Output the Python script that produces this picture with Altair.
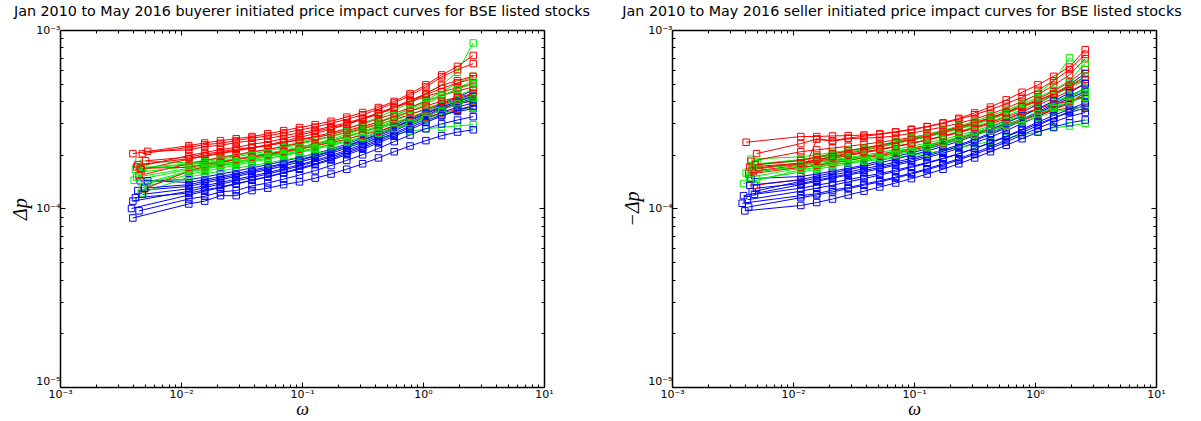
import altair as alt
import pandas as pd

# Impact values below are given in units of 1e-5.
SCALE = 1e-5

# Common order-size bins (omega) shared by the curves after their first point.
omega_grid = [0.0116, 0.0157, 0.0212, 0.0286, 0.0386, 0.0521, 0.0705, 0.0953, 0.1285,
              0.1738, 0.2344, 0.3170, 0.4285, 0.5781, 0.7816, 1.057, 1.426, 1.928, 2.600]

# ---- buyer initiated ----
buy_red_first_x = [0.0040, 0.0048, 0.0053, 0.0043, 0.0047, 0.0045, 0.0050, 0.0044, 0.0046, 0.0051]
buy_red = [
    [20.3, 22.5, 23.3, 24.0, 24.6, 25.3, 26.2, 27.3, 28.4, 29.5, 30.8, 32.5, 34.5, 36.8, 39.8, 44.0, 49.3, 56.0, 62.5, 72.0],
    [20.3, 22.0, 22.8, 23.2, 24.0, 24.8, 25.5, 26.5, 27.5, 28.6, 30.0, 31.6, 33.5, 36.0, 39.0, 43.0, 48.0, 54.6, 60.0, 64.8],
    [20.9, 21.3, 22.2, 22.6, 23.4, 24.0, 24.7, 25.6, 26.5, 27.5, 28.8, 30.2, 32.0, 34.3, 37.0, 40.3, 44.0, 49.0, 52.0, 55.0],
    [17.1, 19.8, 20.6, 21.4, 22.0, 22.9, 23.6, 24.6, 25.8, 27.0, 28.3, 29.8, 31.8, 34.0, 36.8, 40.0, 43.5, 47.0, 50.5, 53.3],
    [16.5, 18.9, 19.6, 20.3, 21.0, 21.8, 22.5, 23.4, 24.4, 25.3, 26.6, 28.0, 29.8, 31.8, 34.0, 36.8, 40.0, 43.0, 45.5, 48.0],
    [15.3, 17.8, 18.5, 19.4, 20.0, 20.8, 21.4, 22.3, 23.2, 24.2, 25.4, 26.6, 28.0, 29.6, 31.5, 33.6, 36.0, 38.5, 40.8, 43.0],
    [12.9, 16.2, 17.2, 18.0, 18.8, 19.5, 20.2, 21.0, 22.0, 23.0, 24.0, 25.3, 26.8, 28.4, 30.2, 32.2, 34.5, 36.5, 38.5, 40.0],
    [17.6, 19.0, 19.8, 20.5, 21.2, 21.9, 22.7, 23.8, 25.0, 26.3, 27.8, 29.5, 31.6, 33.8, 36.5, 39.5, 42.5, 45.0, 47.5, 50.0],
    [16.8, 17.0, 17.6, 18.2, 18.8, 19.4, 20.0, 20.8, 21.5, 22.4, 23.4, 24.5, 25.8, 27.2, 28.8, 30.6, 32.5, 34.3, 36.0, 37.5],
    [18.5, 19.4, 20.2, 20.8, 21.5, 22.0, 22.6, 23.4, 24.2, 25.0, 26.0, 27.3, 28.8, 30.5, 32.5, 35.0, 37.5, 40.0, 42.0, 44.0],
]
buy_green_first_x = [0.0045, 0.0042, 0.0041, 0.0047, 0.0048, 0.0050, 0.0046, 0.0049, 0.0043, 0.0052]
buy_green = [
    [18.5, 18.0, 18.6, 19.2, 19.8, 20.6, 21.4, 22.4, 23.5, 24.8, 26.2, 28.0, 30.0, 32.5, 35.5, 39.0, 44.0, 49.3, 58.0, 84.6],
    [16.6, 17.6, 18.0, 18.4, 19.0, 19.5, 20.2, 21.0, 22.0, 23.1, 24.4, 26.0, 27.8, 30.0, 33.0, 36.5, 40.5, 45.0, 50.5, 55.0],
    [14.4, 16.5, 17.0, 17.6, 18.3, 19.0, 19.8, 20.6, 21.6, 22.6, 23.8, 25.2, 26.8, 28.7, 31.0, 33.5, 36.2, 39.0, 42.5, 47.0],
    [12.2, 15.0, 15.6, 16.2, 16.8, 17.4, 18.0, 18.7, 19.4, 20.3, 21.2, 22.3, 23.5, 24.8, 26.0, 27.0, 28.0, 28.5, 29.0, 29.5],
    [13.1, 15.5, 16.2, 16.8, 17.5, 18.2, 18.9, 19.8, 20.8, 21.8, 23.0, 24.4, 26.0, 27.8, 29.8, 32.0, 34.5, 37.0, 39.5, 42.0],
    [13.6, 16.0, 16.6, 17.3, 18.0, 18.8, 19.6, 20.5, 21.4, 22.5, 23.7, 25.2, 27.0, 29.2, 31.8, 35.0, 38.5, 42.5, 47.0, 52.0],
    [16.0, 17.2, 17.8, 18.4, 19.0, 19.7, 20.4, 21.2, 22.0, 23.0, 24.0, 25.3, 26.8, 28.4, 30.3, 32.5, 35.0, 37.8, 40.5, 43.0],
    [17.0, 17.8, 18.3, 18.9, 19.5, 20.2, 21.0, 21.9, 22.9, 24.0, 25.3, 26.8, 28.5, 30.6, 33.0, 36.0, 39.5, 43.0, 46.5, 50.0],
    [15.0, 16.8, 17.3, 17.8, 18.3, 18.9, 19.5, 20.2, 21.0, 21.8, 22.8, 23.9, 25.1, 26.5, 28.0, 29.8, 31.8, 33.8, 35.5, 37.0],
    [14.0, 16.2, 16.8, 17.4, 17.9, 18.5, 19.1, 19.8, 20.6, 21.5, 22.5, 23.6, 24.9, 26.4, 28.2, 30.3, 32.8, 35.5, 38.5, 41.0],
]
buy_blue_first_x = [0.0046, 0.0053, 0.0044, 0.0040, 0.0039, 0.0045, 0.0040, 0.0048, 0.0050, 0.0042]
buy_blue = [
    [14.3, 14.5, 15.0, 15.6, 16.2, 16.9, 17.6, 18.4, 19.3, 20.3, 21.5, 23.0, 24.8, 26.8, 29.2, 32.0, 35.0, 38.5, 42.0, 46.0],
    [14.3, 14.0, 14.5, 15.1, 15.7, 16.4, 17.1, 17.9, 18.8, 19.8, 21.0, 22.5, 24.2, 26.2, 28.6, 31.3, 34.3, 37.5, 40.8, 44.0],
    [12.6, 13.3, 13.9, 14.5, 15.1, 15.8, 16.5, 17.3, 18.2, 19.2, 20.4, 21.8, 23.5, 25.5, 27.8, 30.4, 33.3, 36.3, 39.0, 41.2],
    [11.0, 12.5, 13.1, 13.7, 14.3, 14.9, 15.6, 16.4, 17.3, 18.3, 19.4, 20.8, 22.4, 24.3, 26.5, 29.0, 31.8, 34.5, 37.0, 39.0],
    [10.0, 11.9, 12.5, 13.1, 13.7, 14.4, 15.1, 15.9, 16.8, 17.8, 19.0, 20.4, 22.0, 23.8, 26.0, 28.4, 31.0, 33.4, 35.0, 36.2],
    [9.7, 11.3, 11.7, 12.4, 12.6, 13.4, 13.9, 14.6, 15.4, 16.3, 17.4, 18.6, 20.0, 21.7, 23.7, 25.8, 28.0, 29.8, 31.3, 32.7],
    [8.85, 10.6, 11.0, 11.8, 11.8, 12.6, 13.0, 13.6, 14.1, 14.8, 15.6, 16.6, 17.8, 19.2, 20.8, 22.4, 24.0, 25.6, 26.8, 27.6],
    [12.0, 12.9, 13.4, 14.0, 14.6, 15.2, 15.9, 16.7, 17.6, 18.6, 19.8, 21.2, 22.9, 24.9, 27.2, 29.8, 32.7, 35.7, 38.5, 40.5],
    [13.0, 13.6, 14.2, 14.8, 15.4, 16.1, 16.8, 17.7, 18.6, 19.6, 20.8, 22.3, 24.0, 26.0, 28.3, 31.0, 34.0, 37.0, 39.8, 42.5],
    [11.5, 12.2, 12.7, 13.2, 13.8, 14.4, 15.0, 15.8, 16.6, 17.6, 18.7, 20.0, 21.5, 23.3, 25.4, 27.7, 30.3, 33.0, 35.5, 37.5],
]

# ---- seller initiated ----
sell_red_first_x = [0.0041, 0.0050, 0.0048, 0.0045, 0.0044, 0.0047, 0.0046, 0.0043, 0.0049, 0.0052]
sell_red = [
    [23.5, 25.3, 25.3, 25.5, 25.6, 25.8, 26.2, 26.9, 27.8, 28.8, 30.2, 32.0, 34.3, 37.0, 40.6, 44.8, 49.3, 55.0, 62.0, 77.6],
    [20.3, 23.1, 24.5, 24.0, 24.8, 25.4, 26.0, 26.8, 27.6, 28.7, 30.0, 31.6, 33.5, 35.8, 38.6, 42.0, 46.0, 52.0, 60.0, 73.0],
    [13.5, 14.5, 24.5, 23.8, 24.6, 24.8, 25.0, 25.5, 26.4, 27.5, 28.6, 30.0, 31.7, 33.8, 36.5, 39.8, 43.5, 49.0, 56.0, 69.0],
    [18.4, 20.8, 21.3, 21.8, 22.3, 22.9, 23.5, 24.2, 25.0, 26.0, 27.2, 28.6, 30.3, 32.3, 34.7, 37.5, 41.0, 45.5, 51.0, 60.0],
    [17.1, 17.9, 18.7, 19.6, 20.4, 21.2, 22.1, 23.1, 24.2, 25.3, 26.6, 28.0, 29.8, 31.8, 34.2, 37.0, 40.0, 43.5, 48.0, 55.0],
    [16.2, 17.5, 18.4, 19.0, 19.8, 20.5, 21.3, 22.2, 23.1, 24.2, 25.4, 26.8, 28.4, 30.3, 32.5, 35.0, 38.0, 41.5, 45.5, 50.0],
    [16.6, 17.8, 18.2, 18.6, 19.0, 19.6, 20.2, 20.9, 21.7, 22.6, 23.6, 24.8, 26.2, 27.8, 29.6, 31.6, 33.8, 36.0, 38.5, 45.0],
    [15.6, 17.0, 17.5, 18.0, 18.6, 19.2, 19.8, 20.5, 21.3, 22.2, 23.2, 24.4, 25.8, 27.4, 29.2, 31.2, 33.3, 35.5, 36.5, 37.0],
    [17.6, 18.6, 19.4, 20.2, 21.0, 21.8, 22.6, 23.5, 24.5, 25.6, 26.9, 28.4, 30.1, 32.1, 34.5, 37.2, 40.3, 44.0, 48.5, 53.0],
    [16.9, 18.0, 18.8, 19.5, 20.1, 20.8, 21.5, 22.3, 23.2, 24.2, 25.3, 26.6, 28.1, 29.8, 31.8, 34.0, 36.2, 38.4, 40.0, 42.0],
]
sell_green_first_x = [0.0045, 0.0039, 0.0046, 0.0043, 0.0048, 0.0044, 0.0051, 0.0041, 0.0047, 0.0050]
sell_green = [
    [18.9, 19.5, 20.0, 20.6, 21.2, 21.8, 22.5, 23.3, 24.2, 25.2, 26.4, 27.8, 29.5, 31.5, 34.0, 39.0, 44.0, 51.7, 69.8, 57.0],
    [13.8, 16.5, 17.0, 17.6, 18.2, 18.8, 19.5, 20.3, 21.2, 22.2, 23.3, 24.6, 26.0, 27.7, 29.5, 31.6, 34.0, 37.0, 40.5, 44.0],
    [16.5, 18.0, 18.6, 19.2, 19.9, 20.6, 21.4, 22.3, 23.2, 24.3, 25.6, 27.0, 28.7, 30.7, 33.0, 35.8, 39.0, 43.0, 47.5, 52.0],
    [16.1, 17.0, 17.3, 17.6, 18.0, 18.4, 18.8, 19.3, 19.8, 20.4, 21.1, 21.9, 22.8, 23.8, 24.8, 25.8, 26.9, 28.3, 29.0, 30.0],
    [17.5, 18.5, 19.2, 19.9, 20.6, 21.4, 22.2, 23.1, 24.1, 25.2, 26.5, 28.0, 29.7, 31.7, 34.0, 36.8, 40.0, 44.0, 49.0, 55.0],
    [15.0, 16.8, 17.4, 18.0, 18.6, 19.3, 20.0, 20.8, 21.7, 22.7, 23.8, 25.1, 26.6, 28.4, 30.5, 33.0, 36.0, 39.5, 43.0, 47.0],
    [17.8, 18.8, 19.5, 20.2, 21.0, 21.8, 22.7, 23.7, 24.8, 26.0, 27.4, 29.0, 30.8, 33.0, 35.5, 38.4, 41.8, 46.0, 52.0, 65.0],
    [15.8, 17.3, 17.8, 18.3, 18.9, 19.5, 20.1, 20.8, 21.6, 22.5, 23.5, 24.6, 25.9, 27.3, 28.9, 30.6, 32.5, 34.8, 36.0, 37.2],
    [16.8, 17.6, 18.1, 18.7, 19.3, 19.9, 20.6, 21.4, 22.3, 23.3, 24.4, 25.7, 27.2, 29.0, 31.0, 33.4, 36.2, 39.4, 42.5, 45.5],
    [14.6, 16.0, 16.6, 17.2, 17.8, 18.5, 19.2, 20.0, 20.9, 21.9, 23.0, 24.3, 25.8, 27.5, 29.4, 31.6, 34.0, 36.8, 39.5, 42.0],
]
sell_blue_first_x = [0.0045, 0.0046, 0.0039, 0.0038, 0.0040, 0.0048, 0.0050, 0.0042, 0.0044, 0.0043]
sell_blue = [
    [14.7, 15.1, 15.6, 16.2, 16.8, 17.5, 18.5, 19.6, 20.5, 21.6, 22.8, 24.4, 26.3, 28.6, 31.3, 34.6, 38.5, 43.5, 49.5, 57.0],
    [12.4, 14.2, 14.8, 15.4, 16.0, 16.7, 17.4, 18.2, 19.1, 20.1, 21.3, 22.7, 24.4, 26.4, 28.8, 31.6, 34.8, 38.5, 42.5, 47.0],
    [11.8, 13.6, 14.2, 14.8, 15.4, 16.0, 16.7, 17.5, 18.3, 19.3, 20.4, 21.7, 23.3, 25.1, 27.3, 29.9, 32.8, 36.0, 39.5, 43.0],
    [10.7, 11.8, 12.1, 12.7, 13.1, 13.7, 14.3, 15.0, 15.8, 16.7, 17.8, 19.0, 20.5, 22.2, 24.2, 26.6, 29.2, 32.0, 35.0, 38.0],
    [9.7, 10.4, 10.8, 11.3, 11.9, 12.5, 13.2, 13.9, 14.7, 15.6, 16.6, 17.8, 19.2, 20.8, 22.6, 24.6, 26.8, 28.6, 30.2, 31.3],
    [12.0, 13.0, 13.5, 14.0, 14.5, 15.1, 15.7, 16.4, 17.2, 18.1, 19.1, 20.3, 21.7, 23.3, 25.2, 27.4, 29.8, 32.2, 34.5, 36.5],
    [13.0, 13.8, 14.4, 15.0, 15.6, 16.3, 17.0, 17.8, 18.7, 19.7, 20.9, 22.3, 24.0, 26.0, 28.3, 31.0, 34.2, 37.8, 41.5, 45.0],
    [11.2, 12.5, 13.0, 13.5, 14.1, 14.7, 15.4, 16.1, 17.0, 17.9, 19.0, 20.2, 21.7, 23.4, 25.4, 27.8, 30.5, 33.2, 36.0, 39.0],
    [13.5, 14.5, 15.2, 15.8, 16.5, 17.2, 18.0, 18.9, 19.9, 21.0, 22.3, 23.8, 25.6, 27.7, 30.1, 33.0, 36.3, 40.0, 44.5, 50.0],
    [10.2, 11.5, 11.9, 12.4, 12.9, 13.5, 14.1, 14.8, 15.6, 16.5, 17.5, 18.7, 20.1, 21.7, 23.6, 25.8, 28.2, 30.5, 32.8, 34.5],
]

GROUP_COLORS = {"red": "#ff0000", "green": "#00ee00", "blue": "#0000ff"}


def build_frame(groups):
    rows = []
    for i in range(10):
        for name, first_x, curves in groups:
            ys = curves[i]
            xs = [first_x[i]] + omega_grid
            for k, (x, y) in enumerate(zip(xs, ys)):
                rows.append({"omega": x, "dp": y * SCALE, "group": name,
                             "series": f"{name}{i}", "idx": k})
    return pd.DataFrame(rows)


def decade_ticks(lo, hi):
    return [m * 10.0 ** e for e in range(lo, hi) for m in range(1, 10)] + [10.0 ** hi]


EXP = "round(log(datum.value)/LN10)"
IS_DECADE = f"abs(log(datum.value)/LN10 - {EXP}) < 0.001"
LABEL = (f"{IS_DECADE} ? '10' + ({EXP} < 0 ? '\u207b' : '') + "
         f"['\u2070','\u00b9','\u00b2','\u00b3','\u2074','\u2075'][abs({EXP})] : ''")
TICK_SIZE = {"condition": {"test": IS_DECADE, "value": -5}, "value": -3}
# lift the lowest y label a little so it clears the first x label
Y_LABEL_OFFSET = {"condition": {"test": "datum.value < 1.5e-5", "value": -6}, "value": 0}


def axis(orient, values, labels=True, label_padding=4, title_padding=4, title_size=19,
         label_offset=None):
    kw = dict(orient=orient, values=values, tickSize=TICK_SIZE, tickColor="black",
              tickWidth=1, domainColor="black", domainWidth=1.5, grid=False,
              labelFont="DejaVu Sans", labelFontSize=11, labelColor="black",
              labelPadding=label_padding, labelFlush=False,
              titleFont="Liberation Serif", titleFontStyle="italic",
              titleFontWeight="normal", titleFontSize=title_size,
              titleColor="black", titlePadding=title_padding)
    if label_offset is not None:
        kw["labelOffset"] = label_offset
    if labels:
        kw["labelExpr"] = LABEL
    else:
        kw["labels"] = False
    return alt.Axis(**kw)


def panel(groups, title, ytitle, dx):
    df = build_frame(groups)
    xs = alt.Scale(type="log", domain=[1e-3, 10])
    ys = alt.Scale(type="log", domain=[1e-5, 1e-3])
    xt = decade_ticks(-3, 1)
    yt = decade_ticks(-5, -3)
    color = alt.Color("group:N", legend=None,
                      scale=alt.Scale(domain=list(GROUP_COLORS), range=list(GROUP_COLORS.values())))
    base = alt.Chart(df).encode(color=color, detail="series:N", order="idx:Q")
    lines = base.mark_line(strokeWidth=1, clip=True).encode(
        x=alt.X("omega:Q", scale=xs,
                axis=axis("bottom", xt, label_padding=6, title_padding=1, title_size=18),
                title="\u03c9"),
        y=alt.Y("dp:Q", scale=ys,
                axis=axis("left", yt, label_padding=5, title_padding=5, title_size=20,
                          label_offset=Y_LABEL_OFFSET),
                title=ytitle),
    )
    pts = base.mark_point(shape="square", filled=False, size=42, strokeWidth=1, opacity=1).encode(
        x=alt.X("omega:Q", scale=xs, axis=axis("top", xt, labels=False), title=None),
        y=alt.Y("dp:Q", scale=ys, axis=axis("right", yt, labels=False), title=None),
    )
    return alt.layer(lines, pts).resolve_axis(x="independent", y="independent").properties(
        width=484, height=357,
        title=alt.TitleParams(title, frame="group", anchor="middle", dx=dx,
                              font="DejaVu Sans", fontSize=14.3,
                              fontWeight="normal", color="black", offset=5),
    )


left = panel([("red", buy_red_first_x, buy_red),
              ("green", buy_green_first_x, buy_green),
              ("blue", buy_blue_first_x, buy_blue)],
             "Jan 2010 to May 2016 buyerer initiated price impact curves for BSE listed stocks",
             "\u0394p", 0)
right = panel([("red", sell_red_first_x, sell_red),
               ("green", sell_green_first_x, sell_green),
               ("blue", sell_blue_first_x, sell_blue)],
              "Jan 2010 to May 2016 seller initiated price impact curves for BSE listed stocks",
              "\u2212\u0394p", -12)

chart = alt.hconcat(left, right, spacing=128, bounds="flush").configure_view(
    stroke="black", strokeWidth=1.5
).configure(background="white", padding={"left": 10, "top": 4, "right": 0, "bottom": 0})

chart.save("out.html", embed_options={"renderer": "svg", "actions": False})
